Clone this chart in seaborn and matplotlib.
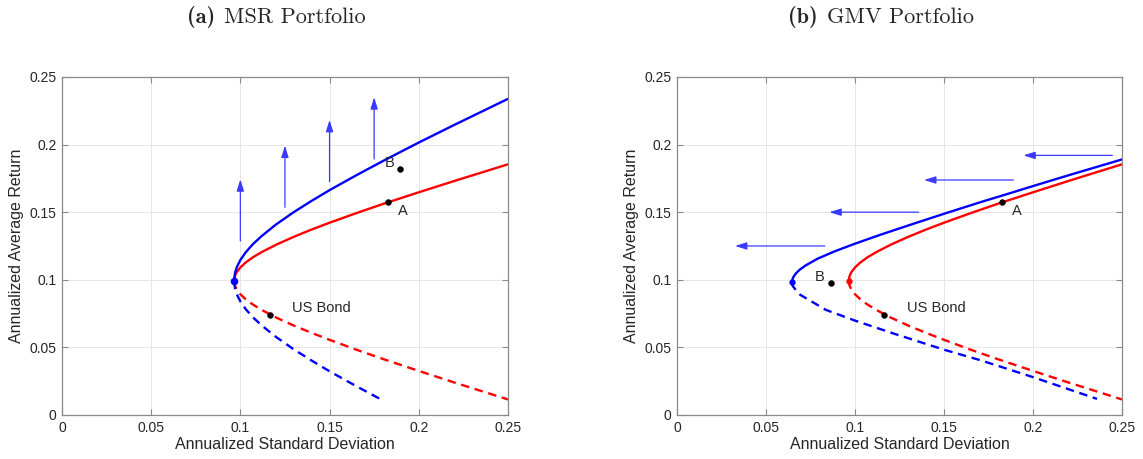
import matplotlib
matplotlib.use('Agg')
import matplotlib.pyplot as plt
import seaborn as sns

# red frontier (same in both panels)
sig_red = [0.0965, 0.097, 0.098, 0.100, 0.103, 0.107, 0.112, 0.12, 0.13, 0.14, 0.15, 0.165, 0.18, 0.20, 0.22, 0.25]
ret_red_up = [0.0993, 0.1030, 0.1057, 0.1091, 0.1128, 0.1166, 0.1205, 0.1259, 0.1318, 0.1372, 0.1422, 0.1493, 0.1561, 0.1647, 0.1731, 0.1854]
ret_red_dn = [0.0993, 0.0955, 0.0928, 0.0893, 0.0856, 0.0817, 0.0777, 0.0721, 0.0661, 0.0607, 0.0556, 0.0483, 0.0414, 0.0326, 0.0240, 0.0115]

# blue frontier, panel (a)
sig_blue_a_up = sig_red
ret_blue_a_up = [0.0993, 0.1051, 0.1093, 0.1146, 0.1203, 0.1263, 0.1324, 0.1409, 0.1501, 0.1584, 0.1663, 0.1773, 0.1879, 0.2015, 0.2146, 0.2338]
sig_blue_a_dn = [0.0965, 0.097, 0.098, 0.100, 0.103, 0.107, 0.112, 0.12, 0.13, 0.14, 0.15, 0.165, 0.178]
ret_blue_a_dn = [0.0993, 0.0936, 0.0893, 0.0840, 0.0783, 0.0723, 0.0662, 0.0577, 0.0485, 0.0402, 0.0323, 0.0213, 0.0121]

# blue frontier, panel (b)
sig_blue_b_up = [0.0645, 0.065, 0.0655, 0.066, 0.067, 0.069, 0.072, 0.079, 0.0885, 0.1, 0.1145, 0.133, 0.15, 0.17, 0.185, 0.20, 0.22, 0.25]
ret_blue_b_up = [0.0980, 0.1008, 0.1022, 0.1033, 0.1050, 0.1075, 0.1104, 0.1156, 0.1210, 0.1267, 0.1334, 0.1415, 0.1488, 0.1572, 0.1632, 0.1693, 0.1773, 0.1890]
sig_blue_b_dn = [0.0645, 0.065, 0.067, 0.0692, 0.0837, 0.1, 0.1225, 0.15, 0.171, 0.2, 0.236]
ret_blue_b_dn = [0.0980, 0.0955, 0.0920, 0.0889, 0.0777, 0.0698, 0.0599, 0.0483, 0.0403, 0.0280, 0.0119]

# marked portfolios
pt_A = (0.1826, 0.1575)
pt_bond = (0.1165, 0.0740)
pt_B_a = (0.1897, 0.1817)
pt_B_b = (0.0866, 0.0976)

# arrows: panel (a) vertical, panel (b) horizontal
arr_a_x = [0.100, 0.125, 0.150, 0.175]
arr_a_tail = [0.1287, 0.1536, 0.1726, 0.1893]
arr_a_tip = [0.1743, 0.1992, 0.2182, 0.2350]
arr_b_y = [0.192, 0.1738, 0.150, 0.125]
arr_b_tail = [0.2446, 0.189, 0.1358, 0.083]
arr_b_tip = [0.1946, 0.1388, 0.0856, 0.0326]

ticks = [0, 0.05, 0.1, 0.15, 0.2, 0.25]
tick_labels = ['0', '0.05', '0.1', '0.15', '0.2', '0.25']

sns.set_style('whitegrid')
plt.rcParams['font.family'] = ['Liberation Sans', 'DejaVu Sans']

fig = plt.figure(figsize=(11.43, 4.59), dpi=100)
ax1 = fig.add_axes([0.0542, 0.0959, 0.3902, 0.7364])
ax2 = fig.add_axes([0.5923, 0.0959, 0.3893, 0.7364])

dash = (0, (3.6, 2.4))


def style_axes(ax):
    ax.set_xlim(0, 0.25)
    ax.set_ylim(0, 0.25)
    ax.set_xticks(ticks)
    ax.set_xticklabels(tick_labels)
    ax.set_yticks(ticks)
    ax.set_yticklabels(tick_labels)
    ax.grid(True, color='#e6e6e6', lw=0.7)
    for s in ax.spines.values():
        s.set_visible(True)
        s.set_color('#8a8a8a')
        s.set_linewidth(0.9)
    ax.tick_params(direction='in', length=4, width=0.8, color='#8a8a8a',
                   labelsize=10, labelcolor='#262626', top=True, right=True,
                   bottom=True, left=True, pad=4)
    ax.set_xlabel('Annualized Standard Deviation', fontsize=11.5, color='#262626', labelpad=2)
    ax.set_ylabel('Annualized Average Return', fontsize=11.5, color='#262626', labelpad=4)


def frontier(ax, xs, ys, color, ls='-'):
    sns.lineplot(x=xs, y=ys, ax=ax, color=color, lw=1.7, sort=False,
                 estimator=None, linestyle=ls)


# ---- panel (a): MSR
frontier(ax1, sig_red, ret_red_up, 'red')
frontier(ax1, sig_red, ret_red_dn, 'red', dash)
frontier(ax1, sig_blue_a_up, ret_blue_a_up, 'blue')
frontier(ax1, sig_blue_a_dn, ret_blue_a_dn, 'blue', dash)
ax1.plot(sig_red[0], ret_red_up[0], 'o', color='blue', ms=4.5, zorder=5)

for x, y0, y1 in zip(arr_a_x, arr_a_tail, arr_a_tip):
    ax1.annotate('', xy=(x, y1), xytext=(x, y0),
                 arrowprops=dict(arrowstyle='-|>,head_length=0.7,head_width=0.22',
                                 color='#3a3aff', lw=0.9, shrinkA=0, shrinkB=0))

sns.scatterplot(x=[pt_A[0], pt_bond[0], pt_B_a[0]], y=[pt_A[1], pt_bond[1], pt_B_a[1]],
                ax=ax1, color='black', s=18, edgecolor='black', zorder=6)
ax1.text(pt_A[0] + 0.0055, pt_A[1] - 0.0065, 'A', fontsize=10.5, va='center')
ax1.text(pt_B_a[0] - 0.0035, pt_B_a[1] + 0.0045, 'B', fontsize=10.5, va='center', ha='right')
ax1.text(0.129, 0.0790, 'US Bond', fontsize=10.5, va='center')
style_axes(ax1)

# ---- panel (b): GMV
frontier(ax2, sig_red, ret_red_up, 'red')
frontier(ax2, sig_red, ret_red_dn, 'red', dash)
frontier(ax2, sig_blue_b_up, ret_blue_b_up, 'blue')
frontier(ax2, sig_blue_b_dn, ret_blue_b_dn, 'blue', dash)
ax2.plot(sig_red[0], ret_red_up[0], 'o', color='red', ms=3.5, zorder=5)
ax2.plot(sig_blue_b_up[0], ret_blue_b_up[0], 'o', color='blue', ms=3.5, zorder=5)

for y, x0, x1 in zip(arr_b_y, arr_b_tail, arr_b_tip):
    ax2.annotate('', xy=(x1, y), xytext=(x0, y),
                 arrowprops=dict(arrowstyle='-|>,head_length=0.7,head_width=0.22',
                                 color='#3a3aff', lw=0.9, shrinkA=0, shrinkB=0))

sns.scatterplot(x=[pt_A[0], pt_bond[0], pt_B_b[0]], y=[pt_A[1], pt_bond[1], pt_B_b[1]],
                ax=ax2, color='black', s=18, edgecolor='black', zorder=6)
ax2.text(pt_A[0] + 0.0055, pt_A[1] - 0.0065, 'A', fontsize=10.5, va='center')
ax2.text(pt_B_b[0] - 0.0035, pt_B_b[1] + 0.0045, 'B', fontsize=10.5, va='center', ha='right')
ax2.text(0.129, 0.0790, 'US Bond', fontsize=10.5, va='center')
style_axes(ax2)

# subfigure captions: bold label + roman title, Computer Modern
for split_px, tag, name in [(219, '(a)', 'MSR Portfolio'), (822, '(b)', 'GMV Portfolio')]:
    fig.text((split_px - 4) / 1143, 0.962, tag, ha='right', va='center',
             fontsize=16, family='cmb10')
    fig.text((split_px + 5) / 1143, 0.962, name, ha='left', va='center',
             fontsize=16, family='cmr10')

fig.savefig('out.png', dpi=100)
plt.close(fig)
